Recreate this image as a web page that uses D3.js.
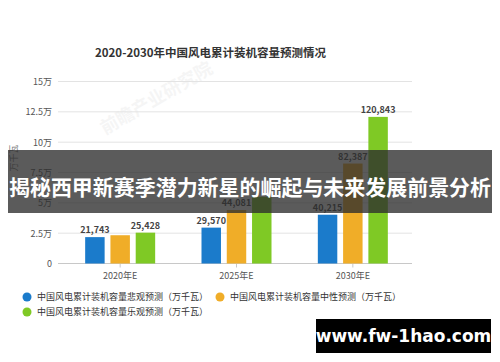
<!DOCTYPE html>
<html>
<head>
<meta charset="utf-8">
<script src="https://cdn.jsdelivr.net/npm/d3@7"></script>
<style>
  html,body{margin:0;padding:0;background:#fff;}
  svg{display:block;font-family:"Noto Sans CJK SC","Noto Sans",sans-serif;}
</style>
</head>
<body>
<div id="chart"></div>
<script>
var categories = ['2020年E', '2025年E', '2030年E']
var seriesNames = ['中国风电累计装机容量悲观预测（万千瓦）', '中国风电累计装机容量中性预测（万千瓦）', '中国风电累计装机容量乐观预测（万千瓦）']
var pessimistic = [21743, 29570, 40215]
var neutral = [23300, 44081, 82387]
var optimistic = [25428, 55000, 120843]
var yTicks = [0, 25000, 50000, 75000, 100000, 125000, 150000]
var yTickLabels = ['0', '2.5万', '5万', '7.5万', '10万', '12.5万', '15万']
// labels that are not printed in the source (overlapped / covered)
var hiddenLabels = ['2020年E|1', '2025年E|2']

var width = 500, height = 362
var colors = ['#1b7bcb', '#f0ad28', '#7fc925']
var series = [pessimistic, neutral, optimistic]

var svg = d3.select('#chart').append('svg')
  .attr('width', width).attr('height', height)

// title
svg.append('text')
  .attr('x', 95).attr('y', 57)
  .style('font-size', '11.5px').style('font-weight', 'bold').style('fill', '#333')
  .text('2020-2030年中国风电累计装机容量预测情况')

// faint watermark
svg.append('text')
  .attr('transform', 'translate(105,135) rotate(-30)')
  .style('font-size', '18px').style('font-weight', 'bold').style('fill', '#000').style('opacity', 0.035)
  .text('前瞻产业研究院')

var y = d3.scaleLinear().domain([0, 150000]).range([263.5, 81.5])
var x = d3.scaleBand().domain(categories).range([62, 411])
var xs = d3.scaleBand().domain([0, 1, 2]).range([-35, 35]).paddingInner(0.23).paddingOuter(0)

// grid
svg.append('g').selectAll('line').data(yTicks).enter().append('line')
  .attr('x1', 58).attr('x2', 412)
  .attr('y1', d => y(d)).attr('y2', d => y(d))
  .style('stroke', (d) => d === 0 ? '#c8c8c8' : '#e3e3e3').style('stroke-width', 1)

svg.append('g').selectAll('text').data(yTicks).enter().append('text')
  .attr('x', 52).attr('y', d => y(d) + 3.5)
  .attr('text-anchor', 'end')
  .style('font-size', '9px').style('fill', '#555')
  .text((d, i) => yTickLabels[i])

// y axis title
svg.append('text')
  .attr('transform', 'translate(17,158) rotate(-90)')
  .attr('text-anchor', 'middle')
  .style('font-size', '9px').style('fill', '#777')
  .text('万千瓦')

// x axis
var xAxis = svg.append('g').attr('transform', `translate(0,${y(0)})`)
  .call(d3.axisBottom(x).tickSize(4).tickSizeOuter(0))
xAxis.select('.domain').remove()
xAxis.selectAll('line').style('stroke', '#c8c8c8')
xAxis.selectAll('text').style('font-size', '9px').style('fill', '#555')
  .style('font-family', '"Noto Sans CJK SC",sans-serif').attr('dy', '0.9em')

// bars
var groups = svg.append('g').selectAll('g').data(categories).enter().append('g')
  .attr('transform', d => `translate(${x(d) + x.bandwidth() / 2},0)`)

groups.selectAll('rect').data((c, ci) => series.map((s, si) => ({ c: c, si: si, v: s[ci] })))
  .enter().append('rect')
  .attr('x', d => xs(d.si)).attr('width', xs.bandwidth())
  .attr('y', d => y(d.v)).attr('height', d => y(0) - y(d.v))
  .style('fill', d => colors[d.si])

groups.selectAll('text.val').data((c, ci) => series.map((s, si) => ({ c: c, si: si, v: s[ci] })))
  .enter().filter(d => hiddenLabels.indexOf(d.c + '|' + d.si) < 0).append('text')
  .attr('class', 'val')
  .attr('x', d => xs(d.si) + xs.bandwidth() / 2).attr('y', d => y(d.v) - 4)
  .attr('text-anchor', 'middle')
  .style('font-size', '9px').style('font-weight', 'bold').style('fill', '#444')
  .text(d => d3.format(',')(d.v))

// legend
var legendPos = [[27, 297], [220, 297], [27, 312]]
var legend = svg.append('g').selectAll('g').data(seriesNames).enter().append('g')
  .attr('transform', (d, i) => `translate(${legendPos[i][0]},${legendPos[i][1]})`)
legend.append('circle').attr('r', 4.5).style('fill', (d, i) => colors[i])
legend.append('text').attr('x', 10).attr('y', 3)
  .style('font-size', '9px').style('fill', '#333')
  .text(d => d)

// overlay banner
svg.append('rect').attr('x', 8).attr('y', 150).attr('width', 484).attr('height', 63)
  .style('fill', 'rgb(45,45,45)').style('opacity', 0.78)
svg.append('text').attr('x', 9).attr('y', 195)
  .attr('textLength', 482).attr('lengthAdjust', 'spacingAndGlyphs')
  .style('font-size', '21px').style('font-weight', 'bold').style('fill', '#fff')
  .text('揭秘西甲新赛季潜力新星的崛起与未来发展前景分析')

// site badge
svg.append('rect').attr('x', 316).attr('y', 319).attr('width', 175).attr('height', 34).style('fill', '#000')
svg.append('text').attr('x', 403.5).attr('y', 342).attr('text-anchor', 'middle')
  .style('font-size', '17px').style('font-weight', 'bold').style('fill', '#fff')
  .style('font-family', '"DejaVu Sans",sans-serif')
  .text('www.fw-1hao.com')
</script>
</body>
</html>
